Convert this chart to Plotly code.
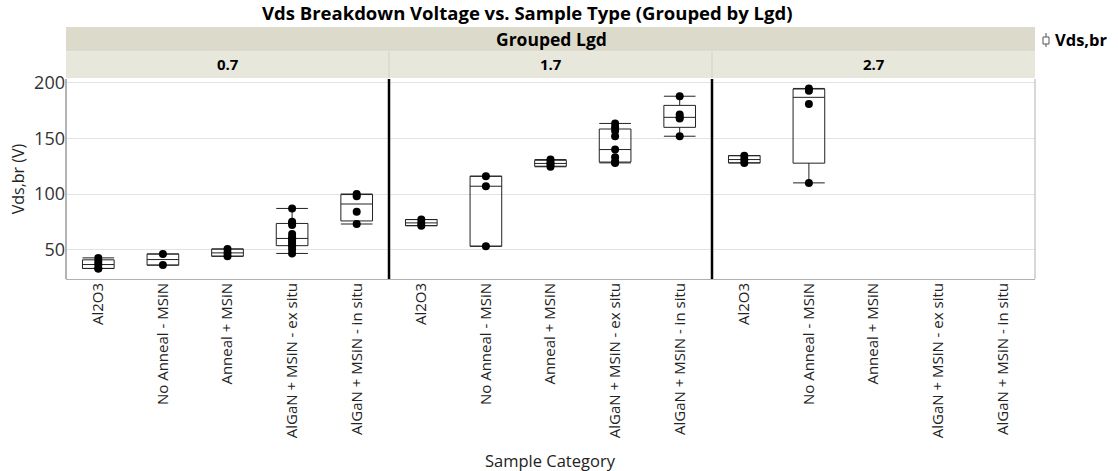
import numpy as np
import plotly.graph_objects as go
from plotly.subplots import make_subplots

# ---- data -------------------------------------------------------------
categories = [
    "Al2O3",
    "No Anneal - MSiN",
    "Anneal + MSiN",
    "AlGaN + MSiN - ex situ",
    "AlGaN + MSiN - in situ",
]
lgd_groups = ["0.7", "1.7", "2.7"]

# Vds,br (V) per Lgd group and sample category
vds_07 = {
    "Al2O3": [33, 33, 36.5, 39, 42.5],
    "No Anneal - MSiN": [36, 46],
    "Anneal + MSiN": [44, 47, 50.5],
    "AlGaN + MSiN - ex situ": [46.5, 50, 53, 55, 57, 59, 61, 64, 72, 74, 75, 87],
    "AlGaN + MSiN - in situ": [73, 84, 98, 100],
}
vds_17 = {
    "Al2O3": [71.5, 74, 77],
    "No Anneal - MSiN": [53, 107, 116],
    "Anneal + MSiN": [124.5, 126.5, 128.5, 131],
    "AlGaN + MSiN - ex situ": [128, 128.5, 129, 133, 140, 152, 157, 160, 163.5],
    "AlGaN + MSiN - in situ": [152, 168, 169, 171.5, 188],
}
vds_27 = {
    "Al2O3": [128, 131, 134.5],
    "No Anneal - MSiN": [110, 181, 193, 195],
}
y_ticks = [50, 100, 150, 200]
y_range = [23.5, 203.5]

# ---- geometry (pixels) ------------------------------------------------
W, H = 1118, 471
L, R, T, B = 66, 1035, 79, 279
FONT = "Segoe UI, Open Sans, sans-serif"


def px(x):
    return (x - L) / (R - L)


def py(y):
    return (B - y) / (B - T)


def box_stats(values):
    """Quartiles at p(n+1) positions, whiskers to farthest points within 1.5 IQR."""
    v = np.sort(np.asarray(values, dtype=float))
    q1, med, q3 = np.quantile(v, [0.25, 0.5, 0.75], method="weibull")
    iqr = q3 - q1
    lo = v[v >= q1 - 1.5 * iqr].min()
    hi = v[v <= q3 + 1.5 * iqr].max()
    return q1, med, q3, lo, hi


fig = make_subplots(rows=1, cols=3, shared_yaxes=True, horizontal_spacing=0)

for i, group in enumerate([vds_07, vds_17, vds_27]):
    bx, q1s, meds, q3s, los, his = [], [], [], [], [], []
    px_cat, px_val = [], []
    for cat in categories:
        vals = group.get(cat, [])
        if not vals:
            continue
        q1, med, q3, lo, hi = box_stats(vals)
        bx.append(cat)
        q1s.append(q1)
        meds.append(med)
        q3s.append(q3)
        los.append(lo)
        his.append(hi)
        px_cat += [cat] * len(vals)
        px_val += list(vals)
    fig.add_trace(
        go.Box(
            x=bx,
            q1=q1s,
            median=meds,
            q3=q3s,
            lowerfence=los,
            upperfence=his,
            width=0.49,
            whiskerwidth=1,
            boxpoints=False,
            fillcolor="rgba(255,255,255,0)",
            line=dict(color="#222222", width=1),
            showlegend=False,
            hoverinfo="skip",
        ),
        row=1,
        col=i + 1,
    )
    fig.add_trace(
        go.Scatter(
            x=px_cat,
            y=px_val,
            mode="markers",
            marker=dict(color="black", size=8),
            showlegend=False,
            hovertemplate="%{x}<br>%{y} V<extra></extra>",
        ),
        row=1,
        col=i + 1,
    )
    fig.update_xaxes(
        type="category",
        categoryorder="array",
        categoryarray=categories,
        range=[-0.5, len(categories) - 0.5],
        tickangle=-90,
        tickfont=dict(family=FONT, size=15, color="#222222"),
        ticklabelstandoff=-3,
        showgrid=False,
        showline=True,
        linecolor="#b0b0b0",
        linewidth=1,
        ticks="",
        row=1,
        col=i + 1,
    )

fig.update_yaxes(range=y_range, tickvals=y_ticks, showgrid=True,
                 gridcolor="#e3e3e3", gridwidth=1, zeroline=False, ticks="")
fig.update_yaxes(
    tickfont=dict(family=FONT, size=18, color="#333333"),
    title_text="Vds,br (V)",
    title_font=dict(family=FONT, size=16, color="#222222"),
    title_standoff=5,
    row=1,
    col=1,
)

shapes = []
# header bands
shapes.append(dict(type="rect", xref="paper", yref="paper",
                   x0=0, x1=1, y0=py(51.5), y1=py(27),
                   fillcolor="#dcdbcb", line=dict(width=0), layer="below"))
shapes.append(dict(type="rect", xref="paper", yref="paper",
                   x0=0, x1=1, y0=py(78), y1=py(51.5),
                   fillcolor="#e8e7dc", line=dict(width=0), layer="below"))
for k in (1, 2):
    xk = k / 3
    shapes.append(dict(type="line", xref="paper", yref="paper",
                       x0=xk, x1=xk, y0=py(78), y1=py(51.5),
                       line=dict(color="#d2d1c6", width=1)))
    shapes.append(dict(type="line", xref="paper", yref="paper",
                       x0=xk, x1=xk, y0=0, y1=1,
                       line=dict(color="black", width=2.5)))
# outer frame
shapes.append(dict(type="line", xref="paper", yref="paper", x0=0, x1=0, y0=0, y1=1,
                   line=dict(color="#9a9a9a", width=1.5)))
shapes.append(dict(type="line", xref="paper", yref="paper", x0=1, x1=1, y0=0, y1=1,
                   line=dict(color="#b0b0b0", width=1)))
# legend glyph (small box-plot icon)
shapes.append(dict(type="line", xref="paper", yref="paper",
                   x0=px(1046), x1=px(1046), y0=py(47), y1=py(33),
                   line=dict(color="#555555", width=1)))
shapes.append(dict(type="rect", xref="paper", yref="paper",
                   x0=px(1043), x1=px(1049), y0=py(44), y1=py(37),
                   fillcolor="white", line=dict(color="#555555", width=1)))

annotations = [
    dict(text="<b>Vds Breakdown Voltage vs. Sample Type (Grouped by Lgd)</b>",
         xref="paper", yref="paper", x=px(527), y=py(13), showarrow=False,
         font=dict(family=FONT, size=18.5, color="black"), xanchor="center", yanchor="middle"),
    dict(text="<b>Grouped Lgd</b>", xref="paper", yref="paper", x=px(551), y=py(39),
         showarrow=False, font=dict(family=FONT, size=17.5, color="black"),
         xanchor="center", yanchor="middle"),
    dict(text="<b>Vds,br</b>", xref="paper", yref="paper", x=px(1053), y=py(40),
         showarrow=False, font=dict(family=FONT, size=16.5, color="black"),
         xanchor="left", yanchor="middle"),
    dict(text="Sample Category", xref="paper", yref="paper", x=px(550), y=py(460),
         showarrow=False, font=dict(family=FONT, size=16.5, color="#222222"),
         xanchor="center", yanchor="middle"),
]
for k, g in enumerate(lgd_groups):
    annotations.append(dict(text=f"<b>{g}</b>", xref="paper", yref="paper",
                            x=(k + 0.5) / 3, y=py(64), showarrow=False,
                            font=dict(family=FONT, size=15, color="black"),
                            xanchor="center", yanchor="middle"))

fig.update_layout(
    width=W,
    height=H,
    margin=dict(l=L, r=W - R, t=T, b=H - B),
    paper_bgcolor="white",
    plot_bgcolor="white",
    shapes=shapes,
    annotations=annotations,
    showlegend=False,
)

fig.write_html("out.html")
